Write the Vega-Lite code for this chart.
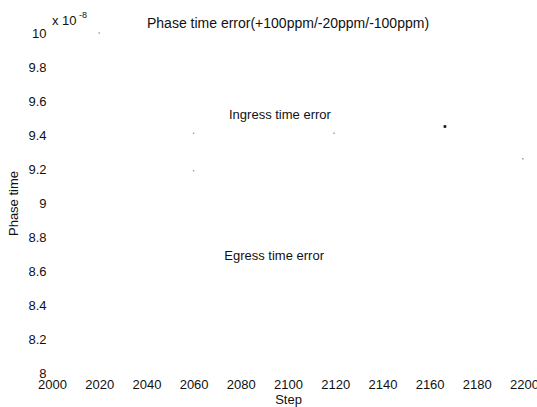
{
  "$schema": "https://vega.github.io/schema/vega-lite/v6.json",
  "width": 472,
  "height": 340,
  "autosize": {"type": "none"},
  "padding": {"left": 52, "top": 33, "right": 13, "bottom": 34},
  "background": "white",
  "config": {
    "view": {"stroke": null},
    "font": "Liberation Sans",
    "text": {"font": "Liberation Sans", "color": "#111111"},
    "axis": {
      "domain": false,
      "ticks": false,
      "grid": false,
      "labelFont": "Liberation Sans",
      "labelFontSize": 13,
      "labelColor": "#111111",
      "titleFont": "Liberation Sans",
      "titleFontSize": 13,
      "titleFontWeight": "normal",
      "titleColor": "#111111"
    },
    "title": {"font": "Liberation Sans", "fontSize": 14, "fontWeight": "normal", "color": "#111111"}
  },
  "title": {"text": "Phase time error(+100ppm/-20ppm/-100ppm)", "offset": 0, "dy": 20},
  "datasets": {
    "samples": [
      {"step": 2020, "phase": 10.0},
      {"step": 2060, "phase": 9.41},
      {"step": 2060, "phase": 9.19},
      {"step": 2119.5, "phase": 9.41},
      {"step": 2199.5, "phase": 9.26}
    ],
    "marker": [
      {"step": 2166.5, "phase": 9.45}
    ],
    "notes": [
      {"step": 2075, "phase": 9.52, "label": "Ingress time error"},
      {"step": 2073, "phase": 8.69, "label": "Egress time error"}
    ]
  },
  "layer": [
    {
      "data": {"name": "samples"},
      "mark": {"type": "point", "shape": "square", "filled": true, "size": 2, "color": "#9a9a9a", "opacity": 1},
      "encoding": {
        "x": {
          "field": "step", "type": "quantitative",
          "scale": {"domain": [2000, 2200], "nice": false, "zero": false},
          "axis": {
            "title": "Step",
            "values": [2000, 2020, 2040, 2060, 2080, 2100, 2120, 2140, 2160, 2180, 2200],
            "tickCount": 11,
            "format": "d",
            "labelPadding": 5,
            "labelFlush": false,
            "labelOverlap": false,
            "titlePadding": 2
          }
        },
        "y": {
          "field": "phase", "type": "quantitative",
          "scale": {"domain": [8, 10], "nice": false, "zero": false},
          "axis": {
            "title": "Phase time",
            "values": [8, 8.2, 8.4, 8.6, 8.8, 9, 9.2, 9.4, 9.6, 9.8, 10],
            "tickCount": 11,
            "labelExpr": "format(datum.value, '~g')",
            "labelPadding": 6,
            "labelFlush": false,
            "labelOverlap": false,
            "titlePadding": 7
          }
        }
      }
    },
    {
      "data": {"name": "marker"},
      "mark": {"type": "point", "shape": "square", "filled": true, "size": 7, "color": "#111111", "opacity": 1},
      "encoding": {
        "x": {"field": "step", "type": "quantitative"},
        "y": {"field": "phase", "type": "quantitative"}
      }
    },
    {
      "data": {"name": "notes"},
      "mark": {"type": "text", "align": "left", "baseline": "middle", "fontSize": 13},
      "encoding": {
        "x": {"field": "step", "type": "quantitative"},
        "y": {"field": "phase", "type": "quantitative"},
        "text": {"field": "label"}
      }
    },
    {
      "data": {"values": [{}]},
      "mark": {"type": "text", "align": "left", "baseline": "middle", "fontSize": 13, "dx": 0, "dy": -12},
      "encoding": {
        "x": {"datum": 2000, "type": "quantitative"},
        "y": {"datum": 10, "type": "quantitative"},
        "text": {"value": "x 10"}
      }
    },
    {
      "data": {"values": [{}]},
      "mark": {"type": "text", "align": "left", "baseline": "middle", "fontSize": 9, "dx": 27, "dy": -18},
      "encoding": {
        "x": {"datum": 2000, "type": "quantitative"},
        "y": {"datum": 10, "type": "quantitative"},
        "text": {"value": "-8"}
      }
    }
  ]
}
